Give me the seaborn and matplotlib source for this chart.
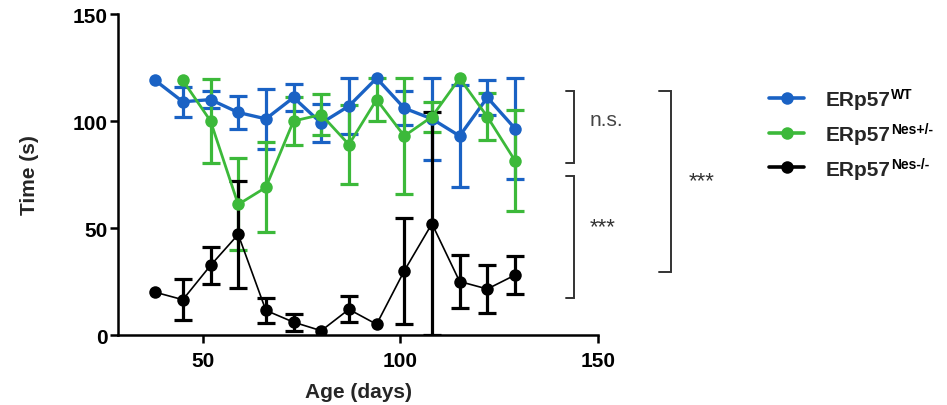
import numpy as np
import pandas as pd
import matplotlib
matplotlib.use("Agg")
import matplotlib.pyplot as plt
import seaborn as sns
from matplotlib.lines import Line2D

# ---------------- data ----------------
ages = [38, 45, 52, 59, 66, 73, 80, 87, 94, 101, 108, 115, 122, 129]

wt_mean = [119, 109, 110, 104, 101, 111, 99, 107, 120, 106, 101, 93, 111, 96.5]
wt_sem = [0, 7, 4, 7.5, 14, 6.5, 9, 13, 0, 8, 19, 24, 8, 23.5]

het_ages = [45, 52, 59, 66, 73, 80, 87, 94, 101, 108, 115, 122, 129]
het_mean = [119, 100, 61, 69, 100, 103, 89, 110, 93, 102, 120, 102, 81.5]
het_sem = [0, 19.5, 21.5, 21, 11, 9.5, 18.6, 10, 27, 7, 0, 11, 23.5]

ko_mean = [20, 16.5, 32.5, 47, 11.5, 6, 2, 12, 5, 30, 52, 25, 21.5, 28]
ko_sem = [0, 9.5, 8.5, 25, 6, 4, 0, 6, 0, 24.7, 52, 12.3, 11, 9]

series_names = ["WT", "Nes+/-", "Nes-/-"]
legend_base = "ERp57"
legend_sups = ["WT", "Nes+/-", "Nes-/-"]
y_ticks = [0, 50, 100, 150]
x_ticks = [50, 100, 150]

# ---------------- style ----------------
sns.set_style("ticks")
plt.rcParams["font.family"] = ["Liberation Sans", "DejaVu Sans"]

colors = {"WT": "#1a62c4", "Nes+/-": "#3cb93a", "Nes-/-": "#000000"}
lw = {"WT": 2.4, "Nes+/-": 2.0, "Nes-/-": 1.2}
elw = {"WT": 2.3, "Nes+/-": 2.3, "Nes-/-": 2.3}

df = pd.concat([
    pd.DataFrame({"age": ages, "time": wt_mean, "sem": wt_sem, "group": "WT"}),
    pd.DataFrame({"age": het_ages, "time": het_mean, "sem": het_sem, "group": "Nes+/-"}),
    pd.DataFrame({"age": ages, "time": ko_mean, "sem": ko_sem, "group": "Nes-/-"}),
], ignore_index=True)

fig = plt.figure(figsize=(9.47, 4.06), dpi=100)
ax = fig.add_axes([0.1246, 0.1724, 0.5069, 0.7906])

for g in series_names:
    sub = df[df["group"] == g]
    sns.lineplot(data=sub, x="age", y="time", ax=ax, color=colors[g],
                 linewidth=lw[g], marker="o", markersize=9,
                 markeredgewidth=0, legend=False, zorder=3)
    eb = sub[sub["sem"] > 0]
    ax.errorbar(eb["age"], eb["time"], yerr=eb["sem"], fmt="none",
                ecolor=colors[g], elinewidth=elw[g], capsize=6.5,
                capthick=elw[g], zorder=2.5)

ax.set_xlim(28.6, 150)
ax.set_ylim(0, 150)
ax.set_xticks(x_ticks)
ax.set_yticks(y_ticks)
sns.despine(ax=ax)
for s in ["left", "bottom"]:
    ax.spines[s].set_linewidth(1.8)
    ax.spines[s].set_color("black")
ax.tick_params(axis="both", width=1.8, length=5.5, labelsize=15, colors="black")
ax.tick_params(axis="x", pad=6)
ax.tick_params(axis="y", pad=2)
for lab in ax.get_xticklabels() + ax.get_yticklabels():
    lab.set_fontweight("bold")
ax.set_xlabel("Age (days)", fontsize=15, fontweight="bold", labelpad=9)
ax.set_ylabel("Time (s)", fontsize=15, fontweight="bold")
ax.yaxis.set_label_coords(-0.165, 0.5)

# ---------------- significance brackets ----------------
bcol = "#333333"
def bracket(x, xt, y0, y1):
    ax.plot([xt, x, x, xt], [y1, y1, y0, y0], color=bcol, lw=1.4,
            clip_on=False, solid_joinstyle="miter")

bracket(144.0, 141.9, 80.2, 113.9)
bracket(144.0, 141.9, 17.3, 74.5)
bracket(168.5, 165.5, 29.5, 113.9)
ax.text(147.8, 100.5, "n.s.", fontsize=15, color="#444444", va="center", ha="left", clip_on=False)
ax.text(148.0, 50.5, "***", fontsize=16, color="#333333", va="center", ha="left", clip_on=False)
ax.text(173.0, 72.0, "***", fontsize=16, color="#333333", va="center", ha="left", clip_on=False)

# ---------------- legend ----------------
handles = [Line2D([0], [0], color=colors[g], lw=2.6, marker="o", markersize=9,
                  markeredgewidth=0) for g in series_names]
leg = fig.legend(handles, [legend_base] * 3, loc="upper left",
                 bbox_to_anchor=(0.812, 0.775), frameon=False,
                 fontsize=15, handlelength=1.7, handletextpad=1.0,
                 labelspacing=0.75, borderpad=0, borderaxespad=0)
for t in leg.get_texts():
    t.set_fontweight("bold")

fig.canvas.draw()
renderer = fig.canvas.get_renderer()
W, H = fig.bbox.width, fig.bbox.height
for t, sup in zip(leg.get_texts(), legend_sups):
    bb = t.get_window_extent(renderer)
    fig.text((bb.x1 + 1) / W, (bb.y1 + 3) / H, sup, fontsize=10,
             fontweight="bold", ha="left", va="top", color="black")

fig.savefig("out.png", dpi=100)
